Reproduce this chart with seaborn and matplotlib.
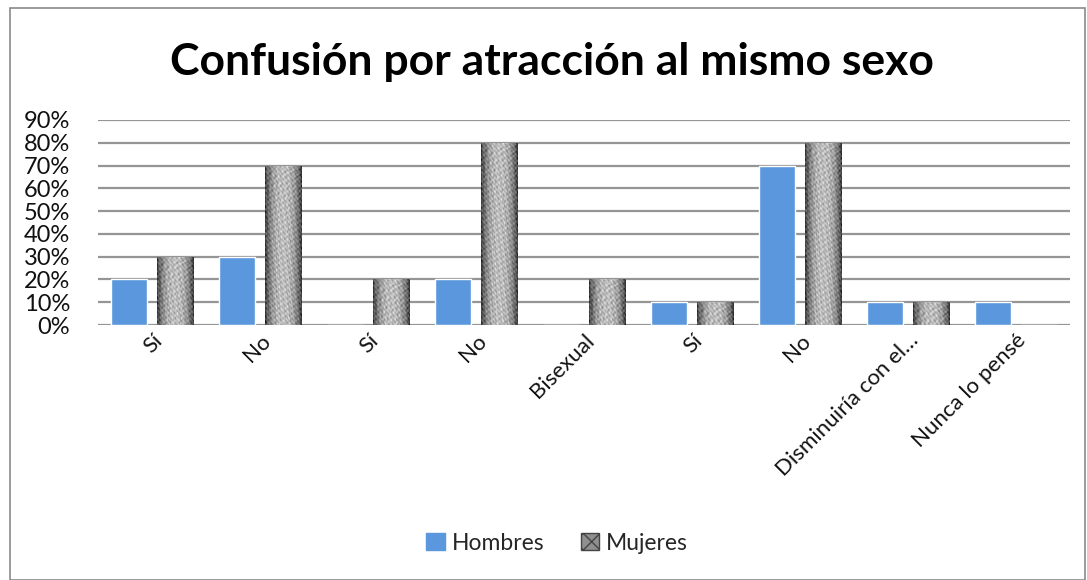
import numpy as np
import pandas as pd
import matplotlib
matplotlib.use("Agg")
import matplotlib.pyplot as plt
import seaborn as sns
from matplotlib.patches import Rectangle, Patch
from matplotlib.ticker import PercentFormatter, MultipleLocator

categories = ["Sí", "No", "Sí", "No", "Bisexual", "Sí", "No",
              "Disminuiría con el…", "Nunca lo pensé"]
hombres = [0.20, 0.30, 0.00, 0.20, 0.00, 0.10, 0.70, 0.10, 0.10]
mujeres = [0.30, 0.70, 0.20, 0.80, 0.20, 0.10, 0.80, 0.10, 0.00]
series = ["Hombres", "Mujeres"]
title = "Confusión por atracción al mismo sexo"

keys = [f"c{i}" for i in range(len(categories))]
df = pd.DataFrame({
    "key": keys * 2,
    "value": hombres + mujeres,
    "serie": [series[0]] * len(keys) + [series[1]] * len(keys),
})

sns.set_theme(style="white")
plt.rcParams["font.family"] = ["Lato", "DejaVu Sans"]

fig = plt.figure(figsize=(10.87, 5.8), dpi=100)
ax = fig.add_axes([98 / 1087, 1 - 325 / 580, (1070 - 98) / 1087, (325 - 120) / 580])

blue = "#5B97DD"
gray = "#8a8a8a"
sns.barplot(data=df, x="key", y="value", hue="serie", order=keys,
            hue_order=series, palette=[blue, gray], width=0.84, gap=0.2,
            ax=ax, legend=False, saturation=1)

# stone-like texture for the Mujeres bars (purely decorative)
yy, xx = np.mgrid[0:240, 0:40].astype(float)
edge = np.abs(xx - 19.5) / 19.5
base = 0.74 - 0.50 * edge ** 2.5
mott = (0.09 * np.sin(xx * 0.83 + yy * 0.37) * np.cos(yy * 0.52 - xx * 0.31)
        + 0.07 * np.sin(yy * 1.13 - xx * 1.41 + 1.0)
        + 0.06 * np.cos(xx * 0.57 - yy * 0.91) * np.sin(xx * 1.9 + yy * 0.21)
        + 0.05 * np.sin(0.29 * xx * yy ** 0.5))
tex = np.clip(base + mott, 0, 1)
n = len(keys)
for p in ax.patches[n:2 * n]:
    h = p.get_height()
    if h <= 0:
        continue
    x0, w = p.get_x(), p.get_width()
    rows = max(int(240 * h / 0.9), 8)
    im = ax.imshow(tex[:rows], cmap="gray", vmin=0, vmax=1, aspect="auto",
                   extent=[x0, x0 + w, 0, h], zorder=p.get_zorder() + 0.1,
                   interpolation="bilinear")
    im.set_clip_path(p)
    p.set_edgecolor("#333333")
    p.set_linewidth(0.6)

ax.set_xlim(-0.5, n - 0.5)
ax.set_ylim(0, 0.9)
ax.yaxis.set_major_locator(MultipleLocator(0.1))
ax.yaxis.set_major_formatter(PercentFormatter(1.0, decimals=0))
ax.grid(axis="y", color="#959595", linewidth=1.6)
ax.set_axisbelow(True)
for s in ax.spines.values():
    s.set_visible(False)
ax.set_xlabel("")
ax.set_ylabel("")
ax.set_xticks(range(n))
ax.set_xticklabels(categories, rotation=45, ha="right", rotation_mode="anchor",
                   fontsize=16, color="#111111")
ax.tick_params(axis="y", labelsize=17, pad=20, colors="#111111", length=0)
ax.tick_params(axis="x", pad=4, length=0)
ax.set_autoscale_on(False)

fig.text(0.508, 1 - 62 / 580, title, ha="center", va="center",
         fontsize=32, fontweight="bold", color="#000000")

handles = [Patch(facecolor=blue, edgecolor=blue),
           Patch(facecolor="#8f8f8f", edgecolor="#444444", hatch="xx")]
fig.legend(handles, series, loc="center", bbox_to_anchor=(557 / 1087, 1 - 543 / 580),
           ncol=2, frameon=False, fontsize=16.5, handlelength=0.8, handleheight=0.8,
           handletextpad=0.3, columnspacing=1.6)

fig.patches.append(Rectangle((10 / 1087, 0), 1075 / 1087, 1 - 8 / 580,
                             transform=fig.transFigure, fill=False,
                             edgecolor="#8a8a8a", linewidth=1.2))

fig.savefig("out.png", dpi=100)
